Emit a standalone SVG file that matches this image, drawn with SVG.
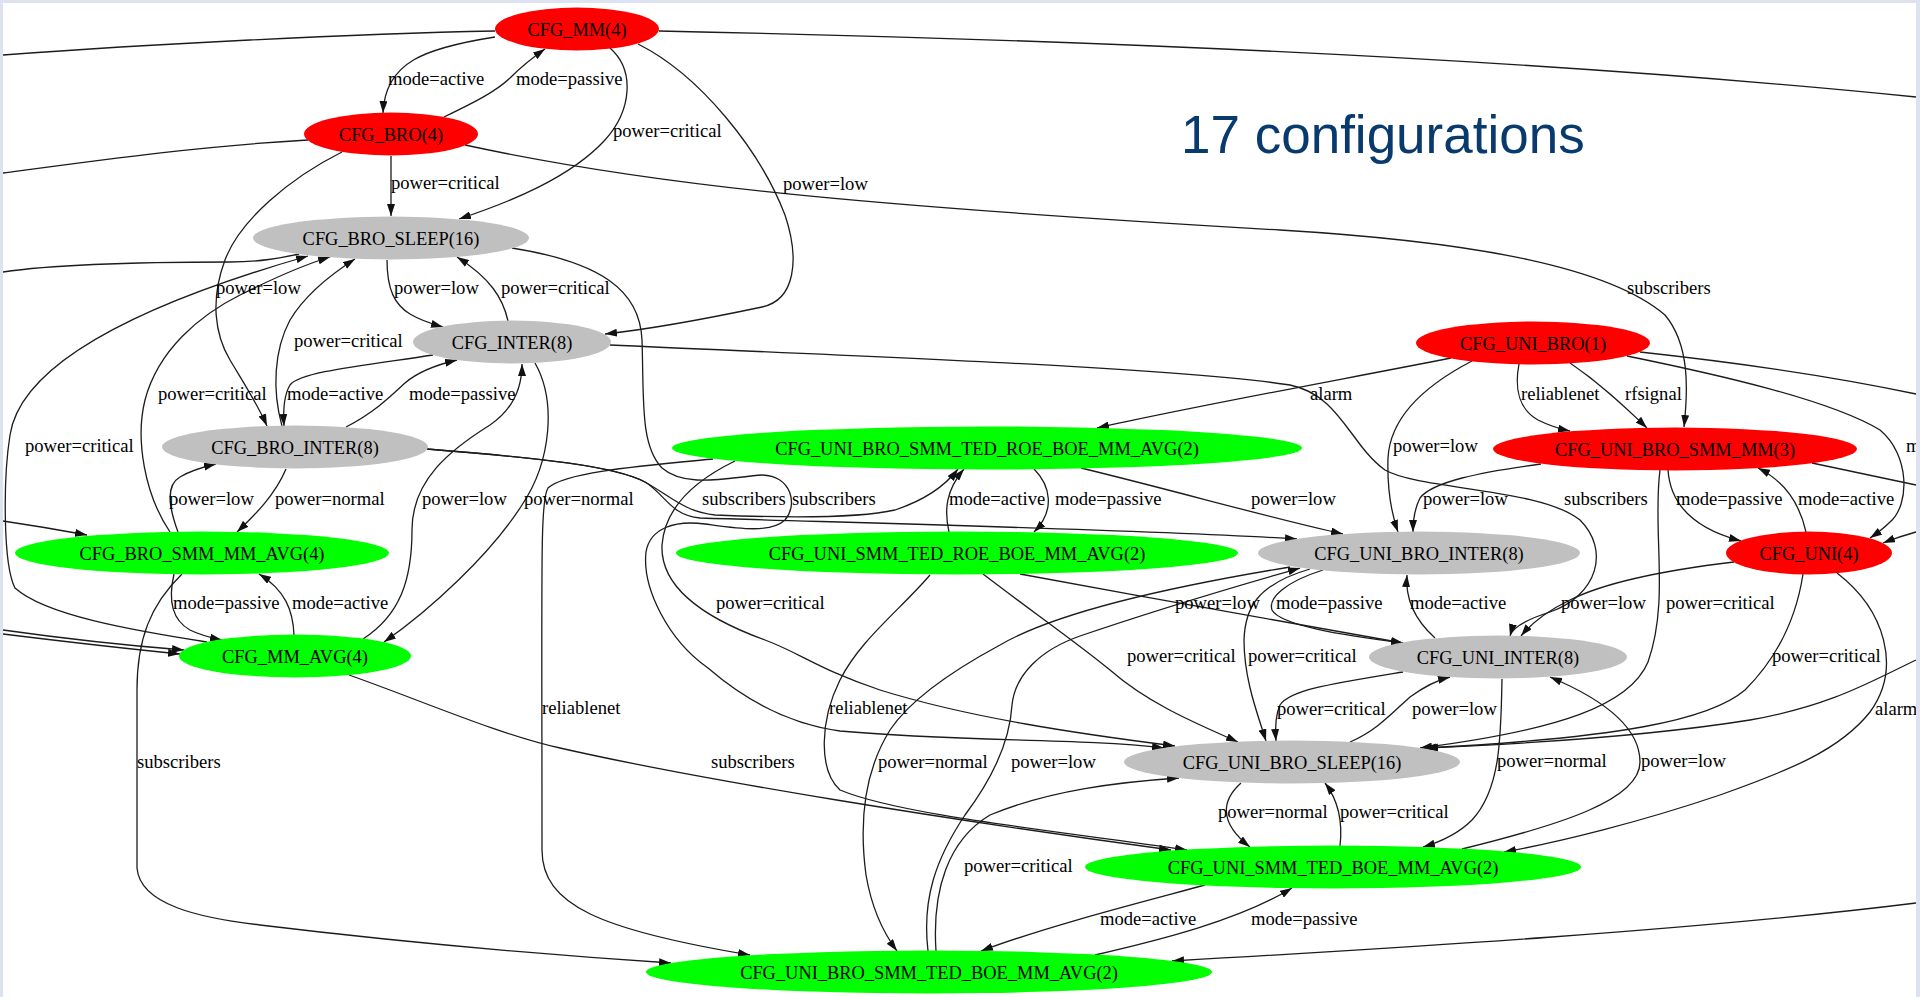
<svg xmlns="http://www.w3.org/2000/svg" width="1920" height="997" viewBox="0 0 1920 997">
  <defs>
    <marker id="arr" markerUnits="userSpaceOnUse" markerWidth="12" markerHeight="8" refX="12" refY="4" orient="auto">
      <path d="M0,0 L12,4 L0,8 z" fill="#111"/>
    </marker>
    <style>
      .e { fill: none; stroke: #1c1c1c; stroke-width: 1.3; }
      .a { marker-end: url(#arr); }
      .lbl { font-family: "Liberation Serif", "Times New Roman", serif; font-size: 18.6px; fill: #000; }
      .nt { font-family: "Liberation Serif", "Times New Roman", serif; font-size: 18.4px; fill: #000; text-anchor: middle; }
      .red { fill: #ff0000; }
      .grey { fill: #c0c0c0; }
      .green { fill: #00ff00; }
      .title { font-family: "Liberation Sans", Arial, sans-serif; font-size: 53px; fill: #093a6e; }
    </style>
  </defs>

  <rect x="0" y="0" width="1920" height="997" fill="#ffffff"/>

  <!-- connectors -->
  <g id="edges">
    <path class="e" d="M3,55 C150,44 350,34 495,31"/>
    <path class="e" d="M659,31 C1000,38 1500,55 1916,97"/>
    <path class="e a" d="M495,37 C425,48 385,62 383,113"/>
    <path class="e a" d="M444,117 C475,102 495,92 510,78 C522,66 532,58 545,49"/>
    <path class="e a" d="M610,48 C635,70 632,110 605,140 C570,178 510,202 459,219"/>
    <path class="e a" d="M638,44 C700,75 760,150 785,215 C800,260 795,300 762,307 C710,318 660,328 605,334"/>
    <path class="e a" d="M391,156 L391,216"/>
    <path class="e" d="M3,173 C100,160 200,146 308,140"/>
    <path class="e a" d="M342,152 C290,178 240,220 225,260 C210,300 215,335 230,360 C245,385 258,405 267,426"/>
    <path class="e a" d="M465,145 C650,185 850,205 1280,230 C1480,242 1610,268 1665,315 C1690,345 1688,390 1684,427"/>
    <path class="e" d="M3,272 C50,265 120,262 230,262 C260,262 280,258 299,254"/>
    <path class="e a" d="M207,642 C130,630 45,615 15,588 C3,565 3,480 10,435 C20,370 120,310 308,256"/>
    <path class="e a" d="M170,532 C145,495 135,440 145,400 C158,350 200,315 240,295 C270,280 300,266 330,257"/>
    <path class="e a" d="M282,426 C272,390 274,350 290,320 C305,295 330,275 355,259"/>
    <path class="e a" d="M433,355 C360,366 300,372 290,385 C284,395 283,410 284,426"/>
    <path class="e a" d="M346,427 C375,412 392,395 405,383 C420,370 440,364 457,360"/>
    <path class="e a" d="M387,260 C387,290 395,305 410,314 C420,320 432,324 443,327"/>
    <path class="e a" d="M508,321 C503,298 490,278 457,257"/>
    <path class="e a" d="M286,469 C275,495 255,515 237,532"/>
    <path class="e a" d="M178,532 C168,505 166,485 180,477 C190,471 203,467 216,464"/>
    <path class="e a" d="M174,574 C168,600 172,620 190,630 C200,635 212,638 222,640"/>
    <path class="e a" d="M294,635 C293,610 285,590 259,574"/>
    <path class="e a" d="M182,574 C150,605 137,640 137,690 L137,868 C140,905 200,918 260,925 C400,942 550,955 671,963"/>
    <path class="e a" d="M535,363 C556,400 552,460 522,505 C490,555 430,610 384,642"/>
    <path class="e a" d="M363,639 C400,615 412,580 412,530 C412,480 450,450 490,425 C512,410 522,390 522,364"/>
    <path class="e a" d="M610,345 C900,358 1180,368 1290,385 C1340,395 1350,445 1385,470 C1420,490 1540,488 1580,520 C1610,550 1598,595 1550,612 C1525,620 1512,628 1510,636"/>
    <path class="e a" d="M1451,358 C1350,378 1200,405 1097,428"/>
    <path class="e a" d="M1472,361 C1420,388 1390,420 1388,458 C1387,490 1392,515 1398,532"/>
    <path class="e a" d="M1519,364 C1514,390 1520,410 1538,420 C1550,426 1560,429 1570,431"/>
    <path class="e a" d="M1570,363 C1598,382 1620,402 1647,428"/>
    <path class="e" d="M1640,352 C1750,364 1850,380 1916,394"/>
    <path class="e a" d="M1627,356 C1720,375 1830,400 1880,430 C1910,455 1910,505 1890,522 C1882,530 1876,534 1870,538"/>
    <path class="e a" d="M1916,532 C1905,535 1893,539 1883,543"/>
    <path class="e" d="M1812,463 L1916,485"/>
    <path class="e a" d="M1541,464 C1480,472 1432,482 1420,498 C1414,510 1413,520 1413,532"/>
    <path class="e a" d="M1668,470 C1670,500 1688,527 1741,541"/>
    <path class="e a" d="M1806,532 C1800,505 1786,482 1758,468"/>
    <path class="e a" d="M1660,470 C1652,530 1670,600 1648,662 C1630,705 1560,730 1420,748"/>
    <path class="e a" d="M1734,562 C1650,572 1600,585 1570,600 C1545,612 1530,625 1521,636"/>
    <path class="e a" d="M1803,574 C1796,620 1775,660 1745,690 C1710,720 1620,738 1424,748"/>
    <path class="e a" d="M1837,573 C1885,610 1902,668 1870,712 C1840,750 1790,770 1720,795 C1640,822 1560,842 1504,852"/>
    <path class="e a" d="M1916,660 C1870,682 1830,706 1750,720 C1650,736 1520,744 1426,748"/>
    <path class="e a" d="M1916,903 C1700,930 1400,948 1172,961"/>
    <path class="e a" d="M1350,742 C1378,730 1395,710 1410,697 C1425,686 1438,680 1450,677"/>
    <path class="e a" d="M1403,672 C1330,684 1290,690 1280,705 C1275,716 1275,728 1276,741"/>
    <path class="e a" d="M1310,569 C1255,585 1245,610 1244,640 C1244,680 1258,715 1266,741"/>
    <path class="e a" d="M1323,570 C1285,582 1268,598 1272,610 C1280,625 1340,635 1403,643"/>
    <path class="e a" d="M1435,638 C1415,620 1405,600 1407,575"/>
    <path class="e a" d="M1502,679 C1501,740 1500,790 1472,820 C1457,835 1440,842 1423,847"/>
    <path class="e a" d="M1462,849 C1560,825 1640,800 1640,762 C1640,725 1600,698 1550,677"/>
    <path class="e a" d="M1241,783 C1222,800 1218,822 1250,847"/>
    <path class="e a" d="M1340,846 C1343,820 1338,800 1325,783"/>
    <path class="e a" d="M1205,885 C1150,900 1050,925 981,951"/>
    <path class="e a" d="M1095,955 C1160,940 1240,920 1292,888"/>
    <path class="e a" d="M349,675 C420,700 500,735 560,748 C700,780 950,820 1171,850"/>
    <path class="e a" d="M930,575 C900,610 860,640 840,680 C820,720 818,770 840,790 C900,815 1050,830 1187,850"/>
    <path class="e a" d="M1290,567 C1180,585 1060,610 1000,645 C950,672 910,700 890,730 C862,775 860,830 866,875 C872,910 885,935 897,951"/>
    <path class="e a" d="M928,951 C922,900 935,860 965,815 C995,775 1010,740 1012,705 C1015,675 1040,650 1080,636 C1150,612 1230,588 1300,568"/>
    <path class="e a" d="M936,951 C932,890 948,840 990,815 C1050,790 1120,782 1179,778"/>
    <path class="e a" d="M983,574 C1030,610 1080,645 1110,670 C1150,705 1200,725 1238,742"/>
    <path class="e a" d="M1020,574 C1150,598 1300,625 1403,643"/>
    <path class="e a" d="M1081,468 C1180,492 1270,518 1343,534"/>
    <path class="e a" d="M427,449 C540,458 615,466 645,482 C665,494 670,515 700,518 C900,524 1150,530 1297,539"/>
    <path class="e a" d="M427,449 C540,458 615,466 645,482 C670,496 685,512 715,515 C790,518 860,518 895,510 C925,500 945,486 958,469"/>
    <path class="e a" d="M1034,469 C1050,485 1056,510 1034,532"/>
    <path class="e a" d="M949,532 C944,510 946,490 964,469"/>
    <path class="e a" d="M713,459 C640,466 565,472 548,488 C540,500 542,560 542,850 C542,905 600,930 750,955"/>
    <path class="e a" d="M512,248 C600,262 640,290 642,340 C644,400 640,445 662,468 C685,488 725,478 762,475 C792,476 798,505 785,520 C770,534 735,528 705,524 C675,520 650,528 646,552 C642,588 668,640 708,668 C745,700 790,724 840,731 C960,742 1080,738 1164,748"/>
    <path class="e a" d="M735,461 C700,478 665,505 662,545 C660,590 710,620 765,640 C800,653 820,670 880,690 C970,718 1080,734 1175,746"/>
    <path class="e a" d="M3,521 C30,525 60,530 87,535"/>
    <path class="e a" d="M3,630 C60,638 120,645 184,650"/>
    <path class="e a" d="M3,634 C60,641 120,648 180,654"/>
  </g>

  <!-- connector labels -->
  <g id="edge-labels" class="lbl">
    <text x="388" y="85">mode=active</text>
    <text x="516" y="85">mode=passive</text>
    <text x="613" y="137">power=critical</text>
    <text x="391" y="189">power=critical</text>
    <text x="783" y="190">power=low</text>
    <text x="1627" y="294">subscribers</text>
    <text x="216" y="294">power=low</text>
    <text x="394" y="294">power=low</text>
    <text x="501" y="294">power=critical</text>
    <text x="294" y="347">power=critical</text>
    <text x="158" y="400">power=critical</text>
    <text x="287" y="400">mode=active</text>
    <text x="409" y="400">mode=passive</text>
    <text x="1310" y="400">alarm</text>
    <text x="1521" y="400">reliablenet</text>
    <text x="1625" y="400">rfsignal</text>
    <text x="25" y="452">power=critical</text>
    <text x="1393" y="452">power=low</text>
    <text x="1906" y="452">m</text>
    <text x="169" y="505">power=low</text>
    <text x="275" y="505">power=normal</text>
    <text x="422" y="505">power=low</text>
    <text x="524" y="505">power=normal</text>
    <text x="702" y="505">subscribers</text>
    <text x="792" y="505">subscribers</text>
    <text x="949" y="505">mode=active</text>
    <text x="1055" y="505">mode=passive</text>
    <text x="1251" y="505">power=low</text>
    <text x="1423" y="505">power=low</text>
    <text x="1564" y="505">subscribers</text>
    <text x="1676" y="505">mode=passive</text>
    <text x="1798" y="505">mode=active</text>
    <text x="173" y="609">mode=passive</text>
    <text x="292" y="609">mode=active</text>
    <text x="716" y="609">power=critical</text>
    <text x="1175" y="609">power=low</text>
    <text x="1276" y="609">mode=passive</text>
    <text x="1410" y="609">mode=active</text>
    <text x="1561" y="609">power=low</text>
    <text x="1666" y="609">power=critical</text>
    <text x="1127" y="662">power=critical</text>
    <text x="1248" y="662">power=critical</text>
    <text x="1772" y="662">power=critical</text>
    <text x="542" y="714">reliablenet</text>
    <text x="829" y="714">reliablenet</text>
    <text x="1277" y="715">power=critical</text>
    <text x="1412" y="715">power=low</text>
    <text x="1875" y="715">alarm</text>
    <text x="137" y="768">subscribers</text>
    <text x="711" y="768">subscribers</text>
    <text x="878" y="768">power=normal</text>
    <text x="1011" y="768">power=low</text>
    <text x="1497" y="767">power=normal</text>
    <text x="1641" y="767">power=low</text>
    <text x="1218" y="818">power=normal</text>
    <text x="1340" y="818">power=critical</text>
    <text x="964" y="872">power=critical</text>
    <text x="1100" y="925">mode=active</text>
    <text x="1251" y="925">mode=passive</text>
  </g>

  <!-- configuration nodes -->
  <g id="n_cfg_mm"><ellipse class="red" cx="577" cy="29" rx="82" ry="21.5"/><text class="nt" x="577" y="35.5">CFG_MM(4)</text></g>
  <g id="n_cfg_bro"><ellipse class="red" cx="391" cy="134" rx="87" ry="21.5"/><text class="nt" x="391" y="140.5">CFG_BRO(4)</text></g>
  <g id="n_cfg_bro_sleep"><ellipse class="grey" cx="391" cy="238" rx="138" ry="21.5"/><text class="nt" x="391" y="244.5">CFG_BRO_SLEEP(16)</text></g>
  <g id="n_cfg_inter"><ellipse class="grey" cx="512" cy="342" rx="99" ry="21.5"/><text class="nt" x="512" y="348.5">CFG_INTER(8)</text></g>
  <g id="n_cfg_bro_inter"><ellipse class="grey" cx="295" cy="447" rx="133" ry="21.5"/><text class="nt" x="295" y="453.5">CFG_BRO_INTER(8)</text></g>
  <g id="n_cfg_bro_smm_mm_avg"><ellipse class="green" cx="202" cy="553" rx="187" ry="21.5"/><text class="nt" x="202" y="559.5">CFG_BRO_SMM_MM_AVG(4)</text></g>
  <g id="n_cfg_mm_avg"><ellipse class="green" cx="295" cy="656" rx="116" ry="21.5"/><text class="nt" x="295" y="662.5">CFG_MM_AVG(4)</text></g>
  <g id="n_cfg_uni_bro"><ellipse class="red" cx="1533" cy="343" rx="117" ry="21.5"/><text class="nt" x="1533" y="349.5">CFG_UNI_BRO(1)</text></g>
  <g id="n_cfg_uni_bro_smm_ted_roe_boe_mm_avg"><ellipse class="green" cx="987" cy="448" rx="315" ry="21.5"/><text class="nt" x="987" y="454.5">CFG_UNI_BRO_SMM_TED_ROE_BOE_MM_AVG(2)</text></g>
  <g id="n_cfg_uni_bro_smm_mm"><ellipse class="red" cx="1675" cy="449" rx="182" ry="21.5"/><text class="nt" x="1675" y="455.5">CFG_UNI_BRO_SMM_MM(3)</text></g>
  <g id="n_cfg_uni_smm_ted_roe_boe_mm_avg"><ellipse class="green" cx="957" cy="553" rx="281" ry="21.5"/><text class="nt" x="957" y="559.5">CFG_UNI_SMM_TED_ROE_BOE_MM_AVG(2)</text></g>
  <g id="n_cfg_uni_bro_inter"><ellipse class="grey" cx="1419" cy="553" rx="161" ry="21.5"/><text class="nt" x="1419" y="559.5">CFG_UNI_BRO_INTER(8)</text></g>
  <g id="n_cfg_uni"><ellipse class="red" cx="1809" cy="553" rx="83" ry="21.5"/><text class="nt" x="1809" y="559.5">CFG_UNI(4)</text></g>
  <g id="n_cfg_uni_inter"><ellipse class="grey" cx="1498" cy="657" rx="129" ry="21.5"/><text class="nt" x="1498" y="663.5">CFG_UNI_INTER(8)</text></g>
  <g id="n_cfg_uni_bro_sleep"><ellipse class="grey" cx="1292" cy="762" rx="168" ry="21.5"/><text class="nt" x="1292" y="768.5">CFG_UNI_BRO_SLEEP(16)</text></g>
  <g id="n_cfg_uni_smm_ted_boe_mm_avg"><ellipse class="green" cx="1333" cy="867" rx="248" ry="21.5"/><text class="nt" x="1333" y="873.5">CFG_UNI_SMM_TED_BOE_MM_AVG(2)</text></g>
  <g id="n_cfg_uni_bro_smm_ted_boe_mm_avg"><ellipse class="green" cx="929" cy="972" rx="283" ry="21.5"/><text class="nt" x="929" y="978.5">CFG_UNI_BRO_SMM_TED_BOE_MM_AVG(2)</text></g>

  <text class="title" x="1181" y="153">17 configurations</text>

  <!-- slide frame -->
  <path d="M0,0 H1920 V997 H0 Z M3,3 V997 H1916 V3 Z" fill="#dde1f0" fill-rule="evenodd"/>
</svg>
